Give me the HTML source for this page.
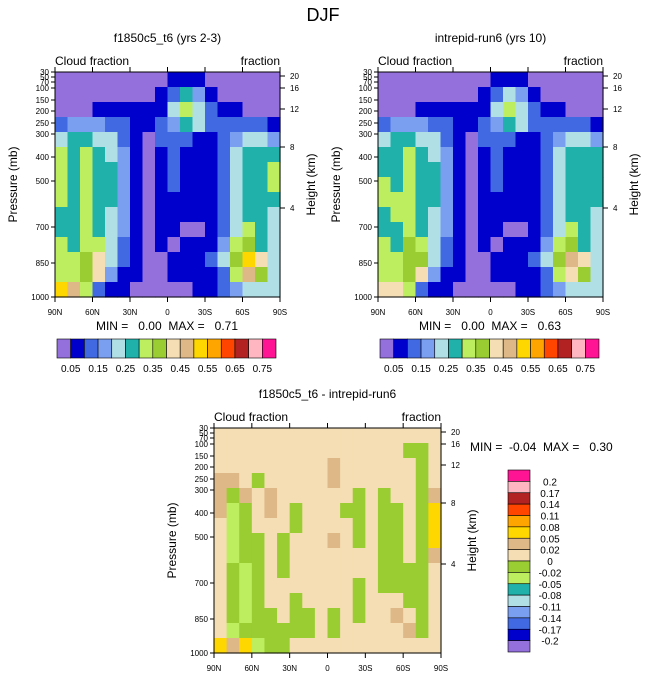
<!DOCTYPE html>
<html><head><meta charset="utf-8"><style>
body{margin:0;background:#fff;width:647px;height:678px;overflow:hidden}
svg text{font-family:"Liberation Sans",sans-serif;fill:#000;white-space:pre}
</style></head><body>
<svg id="s" width="647" height="678" xmlns="http://www.w3.org/2000/svg">
<text x="323" y="21" font-size="18" text-anchor="middle">DJF</text>
</svg>
<script>
// data: cloud fraction (percent) grid, rows 30mb->1000mb, cols 90N->90S
const levelsCF = [5,10,15,20,25,30,35,40,45,50,55,60,65,70,75];
const colorsCF = ["#9370DB","#0000CD","#4169E1","#7B9FF0","#B0E0E6","#20B2AA","#BDEE60","#9ACD32","#F5DEB3","#DEB887","#FFD700","#FFA500","#FF4500","#B22222","#FFB6C1","#FF1493"];
const cbLabelsCF = ["0.05","0.15","0.25","0.35","0.45","0.55","0.65","0.75"];
const gridA = [
[2,2,2,2,2,2,2,2,2,8,8,8,2,2,2,2,2,2],
[2,2,2,2,2,2,2,2,8,12,26,18,9,3,2,2,2,2],
[4,4,4,7,7,7,7,6,9,20,32,22,10,7,7,4,2,2],
[12,18,18,16,14,10,8,7,10,18,26,20,12,10,14,13,10,8],
[24,27,28,24,20,14,8,4,10,14,12,9,8,12,18,22,22,18],
[31,27,30,27,24,18,8,3,8,12,8,7,8,13,21,27,26,28],
[32,27,32,28,25,18,8,3,7,12,7,7,8,13,20,27,27,31],
[32,27,32,29,25,18,8,3,7,11,7,7,8,13,20,27,27,30],
[30,27,32,28,25,18,8,3,6,8,7,7,8,13,20,27,26,28],
[28,27,32,28,24,17,8,3,6,6,7,7,8,13,20,27,25,22],
[28,27,32,28,23,16,8,3,6,6,3,3,8,13,20,30,25,22],
[32,28,33,32,22,14,8,3,6,3,6,7,9,15,30,36,27,22],
[33,32,36,40,20,12,8,3,4,6,7,7,10,20,36,52,42,20],
[32,34,37,42,15,9,7,3,4,7,7,7,8,14,30,45,36,20],
[52,45,30,10,7,5,3,3,3,3,3,7,8,10,15,22,20,20]];
const gridB = [
[2,2,2,2,2,2,2,2,2,8,8,8,2,2,2,2,2,2],
[2,2,2,2,2,2,2,2,8,12,24,18,9,3,2,2,2,2],
[4,4,4,7,7,7,7,6,9,20,30,22,10,7,7,4,2,2],
[12,18,18,16,14,10,8,7,10,18,26,20,12,10,14,13,10,8],
[24,27,28,24,20,14,8,4,10,14,12,9,8,12,18,22,22,18],
[28,28,30,27,24,18,8,3,8,12,8,7,8,13,22,27,26,27],
[29,28,32,28,25,18,8,3,7,12,7,7,8,13,22,28,27,28],
[32,29,32,29,25,18,8,3,7,11,7,7,8,13,22,27,27,28],
[30,30,33,28,25,18,8,3,6,8,7,7,8,13,22,28,26,27],
[28,30,33,28,24,17,8,3,6,6,7,7,8,13,22,28,25,22],
[28,28,33,28,23,16,8,3,6,6,3,3,8,13,22,31,25,22],
[30,29,36,32,22,14,8,3,6,3,6,7,9,16,31,37,27,22],
[32,33,37,38,20,12,8,3,4,6,7,7,10,21,37,48,40,20],
[32,34,37,40,15,9,7,3,4,7,7,7,8,14,31,44,36,20],
[42,40,30,10,7,5,3,3,3,3,3,7,8,10,15,22,20,20]];
// difference grid (hundredths)
const levelsD = [-20,-17,-14,-11,-8,-5,-2,0,2,5,8,11,14,17,20];
const colorsD = colorsCF;
const cbLabelsD = ["0.2","0.17","0.14","0.11","0.08","0.05","0.02","0","-0.02","-0.05","-0.08","-0.11","-0.14","-0.17","-0.2"];
const gridD = [
[1,1,1,1,1,1,1,1,1,1,1,1,1,1,1,1,1,1],
[1,1,1,1,1,1,1,1,1,1,1,1,1,1,1,-1,-1,1],
[1,1,1,1,1,1,1,1,1,3,1,1,1,1,1,1,-1,1],
[3,3,1,-1,1,1,1,1,1,3,1,1,1,1,1,1,-1,1],
[3,-1,3,1,3,1,1,1,1,1,1,-1,1,-1,1,1,-1,3],
[3,-3,-1,1,3,1,-1,1,1,1,-1,-1,1,-1,-1,1,-1,6],
[1,-3,-1,1,1,1,-1,1,1,1,1,-1,1,-1,-1,1,-1,6],
[1,-3,-1,-1,1,-1,1,1,1,3,1,-1,1,-1,-1,1,-1,6],
[1,-3,-1,-1,1,-1,1,1,1,1,1,1,1,-1,-1,1,-1,3],
[1,-1,-3,-1,1,-1,1,1,1,1,1,1,1,-1,-1,-1,-1,1],
[1,-1,-3,-1,1,1,1,1,1,1,1,-1,1,-1,-1,-1,-1,1],
[1,-1,-3,-1,1,1,-1,1,1,1,1,-1,1,1,1,-1,-1,1],
[1,-1,-3,-1,-1,1,-1,-1,1,-1,1,-1,1,1,3,1,-1,1],
[1,-3,-1,-1,-1,-1,-1,-1,1,-1,1,1,1,1,1,3,-1,1],
[6,3,6,-3,-1,-1,1,1,1,1,1,1,1,1,1,1,1,1]];
const pLabels = ["30","50","70","100","150","200","250","300","400","500","700","850","1000"];
const pOffsets = [0,5,10,16,28,39,51,62,85,109,155,191,225];
const hLabels = ["20","16","12","8","4"];
const hOffsets = [4,16,37,75,136];
const xLabels = ["90N","60N","30N","0","30S","60S","90S"];

const NS="http://www.w3.org/2000/svg", S=document.getElementById('s');
function el(t,a,p){const e=document.createElementNS(NS,t);for(const k in a)e.setAttribute(k,a[k]);(p||S).appendChild(e);return e;}
function txt(x,y,s,fs,anchor,p){const e=el('text',{x:x,y:y,'font-size':fs,'text-anchor':anchor||'start'},p);e.textContent=s;return e;}
function colorFor(v,levels,colors){let i=0;while(i<levels.length&&v>=levels[i])i++;return colors[i];}

function panel(name,x0,y0,w,h,grid,levels,colors,title,rightNote){
  const g=el('g',{});
  
  
  const rows=grid.length, cols=grid[0].length;
  const cw=w/cols, rh=h/rows;
  for(let r=0;r<rows;r++)for(let c=0;c<cols;c++){
    const rc=el('rect',{x:x0+c*cw,y:y0+r*rh,width:cw+0.6,height:rh+0.6,fill:colorFor(grid[r][c],levels,colors)},g);
    
    
  }
  const fr=el('rect',{x:x0,y:y0,width:w,height:h,fill:'none',stroke:'#000','stroke-width':1},g);
  
  
  const t=txt(x0+w/2,y0-30,title,12,'middle',g);
  
  
  const lt=txt(x0,y0-7,'Cloud fraction',12,'start',g);
  
  
  const rt=txt(x0+w,y0-7,'fraction',12,'end',g);
  
  
  pLabels.forEach((p,i)=>{const y=y0+pOffsets[i]*h/225;
    el('line',{x1:x0-4,x2:x0,y1:y,y2:y,stroke:'#000'},g);
    const l=txt(x0-6,y+3,p,8,'end',g);
    
    });
  hLabels.forEach((p,i)=>{const y=y0+hOffsets[i]*h/225;
    el('line',{x1:x0+w,x2:x0+w+5,y1:y,y2:y,stroke:'#000'},g);
    const l=txt(x0+w+10,y+3,p,8,'start',g);
    
    });
  xLabels.forEach((p,i)=>{const x=x0+i*w/6;
    el('line',{x1:x,x2:x,y1:y0+h,y2:y0+h+5,stroke:'#000'},g);
    el('line',{x1:x,x2:x,y1:y0,y2:y0-5,stroke:'#000'},g);
    const l=txt(x,y0+h+18,p,8,'middle',g);
    
    });
  const yl=txt(0,0,'Pressure (mb)',12,'middle',g);
  yl.setAttribute('transform',`translate(${x0-38},${y0+h/2}) rotate(-90)`);
  
  
  const hl=txt(0,0,'Height (km)',12,'middle',g);
  hl.setAttribute('transform',`translate(${x0+w+35},${y0+h/2}) rotate(-90)`);
  
  
  if(rightNote){const m=txt(rightNote[0],rightNote[1],rightNote[2],12,'start',g);
    
    }
}
function hbar(name,x0,y0,w,h){
  const g=el('g',{});
  
  
  const n=colorsCF.length, bw=w/n;
  colorsCF.forEach((c,i)=>{const r=el('rect',{x:x0+i*bw,y:y0,width:bw,height:h,fill:c,stroke:'#000','stroke-width':0.6},g);
    
    });
  cbLabelsCF.forEach((s,i)=>{const l=txt(x0+(2*i+1)*bw,y0+h+14,s,10,'middle',g);
    
    });
}
panel('panel-f1850c5',55,72,225,225,gridA,levelsCF,colorsCF,'f1850c5_t6 (yrs 2-3)',null);
let m1=txt(167,330,'MIN =   0.00  MAX =   0.71',12,'middle');


hbar('colorbar-left',57,339,219,19);
panel('panel-intrepid',378,72,225,225,gridB,levelsCF,colorsCF,'intrepid-run6 (yrs 10)',null);
let m2=txt(490,330,'MIN =   0.00  MAX =   0.63',12,'middle');


hbar('colorbar-right',380,339,219,19);
panel('panel-difference',214,428,227,225,gridD,levelsD,colorsD,'f1850c5_t6 - intrepid-run6',[470,451,'MIN =  -0.04  MAX =   0.30']);
(function(){
  const g=el('g',{});
  
  
  const n=colorsD.length, x0=508,y0=470,w=22,bh=182/n;
  for(let i=0;i<n;i++){const r=el('rect',{x:x0,y:y0+i*bh,width:w,height:bh,fill:colorsD[n-1-i],stroke:'#000','stroke-width':0.6},g);
    
    }
  cbLabelsD.forEach((s,i)=>{const l=txt(550,y0+(i+1)*bh+4,s,10,'middle',g);
    
    });
})();
</script>
</body></html>
